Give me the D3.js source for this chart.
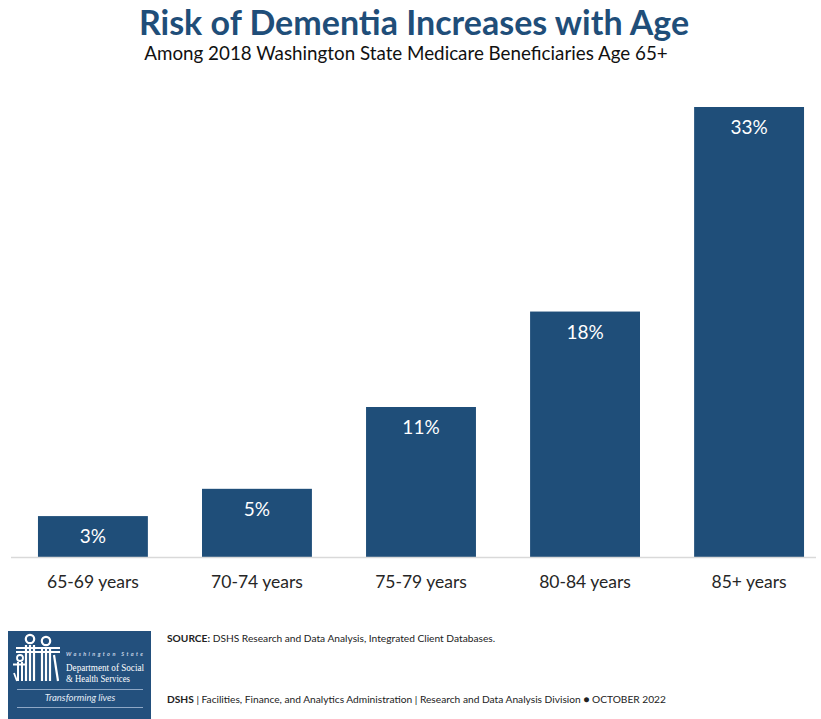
<!DOCTYPE html>
<html>
<head>
<meta charset="utf-8">
<script src="https://cdn.jsdelivr.net/npm/d3@7"></script>
<style>
  html, body { margin: 0; padding: 0; background: #ffffff; }
  svg { display: block; font-family: Lato, "Open Sans", sans-serif; }
</style>
</head>
<body>
<svg id="chart" width="821" height="719"></svg>
<script>
// Share of beneficiaries with dementia, by age group (percent)
const ageGroups = ["65-69 years", "70-74 years", "75-79 years", "80-84 years", "85+ years"];
const dementiaPct = [3, 5, 11, 18, 33];
const valueLabels = ["3%", "5%", "11%", "18%", "33%"];

const titleText = "Risk of Dementia Increases with Age";
const subtitleText = "Among 2018 Washington State Medicare Beneficiaries Age 65+";
const sourceLead = "SOURCE:";
const sourceText = " DSHS Research and Data Analysis, Integrated Client Databases.";
const footerLead = "DSHS";
const footerText = " | Facilities, Finance, and Analytics Administration | Research and Data Analysis Division \u25CF OCTOBER 2022";

const navy = "#1f4e79";
const svg = d3.select("#chart");

// Title block
svg.append("text")
  .attr("x", 414).attr("y", 35)
  .attr("text-anchor", "middle")
  .attr("font-size", 34).attr("font-weight", 700)
  .attr("fill", navy)
  .text(titleText);

svg.append("text")
  .attr("x", 406).attr("y", 60)
  .attr("text-anchor", "middle")
  .attr("font-size", 18.8)
  .attr("fill", "#111")
  .text(subtitleText);

// Scales
const baseY = 557, topY = 107;
const x = d3.scaleBand()
  .domain(ageGroups)
  .range([10.9, 831.1])
  .paddingInner(0.33)
  .paddingOuter(0.165);

const y = d3.scaleLinear()
  .domain([0, d3.max(dementiaPct)])
  .range([baseY, topY]);

const data = ageGroups.map((g, i) => ({ group: g, value: dementiaPct[i], label: valueLabels[i] }));

// Bars
svg.append("g").selectAll("rect")
  .data(data)
  .join("rect")
  .attr("x", d => x(d.group))
  .attr("y", d => y(d.value))
  .attr("width", x.bandwidth())
  .attr("height", d => baseY - y(d.value))
  .attr("fill", navy);

// Value labels inside the top of each bar
svg.append("g").selectAll("text")
  .data(data)
  .join("text")
  .attr("x", d => x(d.group) + x.bandwidth() / 2)
  .attr("y", d => Math.min(y(d.value) + 27, (y(d.value) + baseY) / 2 + 7))
  .attr("text-anchor", "middle")
  .attr("font-size", 19)
  .attr("fill", "#ffffff")
  .text(d => d.label);

// Category axis
const xAxis = svg.append("g")
  .attr("transform", `translate(0,${baseY})`)
  .call(d3.axisBottom(x).tickSize(0).tickPadding(19));
xAxis.select(".domain").remove();
xAxis.selectAll("text")
  .attr("font-family", "Lato, 'Open Sans', sans-serif")
  .attr("font-size", 17.5)
  .attr("fill", "#262626");

svg.append("line")
  .attr("x1", 11).attr("x2", 816)
  .attr("y1", baseY + 0.5).attr("y2", baseY + 0.5)
  .attr("stroke", "#d9d9d9").attr("stroke-width", 1.5);

// Footer notes
const src = svg.append("text")
  .attr("x", 167).attr("y", 642)
  .attr("font-size", 10.2).attr("fill", "#222");
src.append("tspan").attr("font-weight", 700).text(sourceLead);
src.append("tspan").text(sourceText);

const foot = svg.append("text")
  .attr("x", 167).attr("y", 703)
  .attr("font-size", 10.2).attr("fill", "#222");
foot.append("tspan").attr("font-weight", 700).text(footerLead);
foot.append("tspan").text(footerText);

// Agency logo
const logo = svg.append("g").attr("transform", "translate(8,631)");
logo.append("rect").attr("width", 143).attr("height", 88).attr("fill", "#23507d");

const fig = logo.append("g")
  .attr("stroke", "#ffffff").attr("fill", "none");
// adult heads
[[22, 8, 4.2], [38, 10, 4.2]].forEach(([cx, cy, r]) => {
  fig.append("circle").attr("cx", cx).attr("cy", cy).attr("r", r).attr("stroke-width", 2.2);
});
// shoulders / arms
fig.append("line").attr("x1", 8).attr("x2", 52).attr("y1", 17).attr("y2", 17).attr("stroke-width", 2);
fig.append("line").attr("x1", 8).attr("x2", 52).attr("y1", 21).attr("y2", 21).attr("stroke-width", 2);
// adult bodies and legs
[[18, 14, 50], [22, 14, 50], [26, 14, 50], [34, 16, 50], [38, 16, 50], [42, 16, 50]].forEach(([xx, y1, y2]) => {
  fig.append("line").attr("x1", xx).attr("x2", xx).attr("y1", y1).attr("y2", y2).attr("stroke-width", 2.2);
});
fig.append("line").attr("x1", 46).attr("x2", 50).attr("y1", 24).attr("y2", 50).attr("stroke-width", 2.2);
// child figure
fig.append("circle").attr("cx", 12).attr("cy", 27).attr("r", 3).attr("stroke-width", 1.8);
fig.append("line").attr("x1", 5).attr("x2", 19).attr("y1", 33.5).attr("y2", 33.5).attr("stroke-width", 2);
[[10, 31, 50], [14, 31, 50]].forEach(([xx, y1, y2]) => {
  fig.append("line").attr("x1", xx).attr("x2", xx).attr("y1", y1).attr("y2", y2).attr("stroke-width", 2);
});
fig.append("line").attr("x1", 6).attr("x2", 9).attr("y1", 42).attr("y2", 50).attr("stroke-width", 1.8);

logo.append("text")
  .attr("x", 58).attr("y", 25)
  .attr("font-size", 5.5).attr("font-style", "italic").attr("font-weight", 700)
  .attr("textLength", 77).attr("lengthAdjust", "spacing")
  .attr("fill", "#c9d6e6")
  .text("Washington State");
logo.append("text")
  .attr("x", 58).attr("y", 40)
  .attr("font-family", "'Liberation Serif', serif").attr("font-size", 10.5)
  .attr("textLength", 78).attr("lengthAdjust", "spacingAndGlyphs")
  .attr("fill", "#ffffff")
  .text("Department of Social");
logo.append("text")
  .attr("x", 58).attr("y", 51)
  .attr("font-family", "'Liberation Serif', serif").attr("font-size", 10.5)
  .attr("textLength", 64).attr("lengthAdjust", "spacingAndGlyphs")
  .attr("fill", "#ffffff")
  .text("& Health Services");
logo.append("line")
  .attr("x1", 9).attr("x2", 135).attr("y1", 58.5).attr("y2", 58.5)
  .attr("stroke", "#8fa8c6").attr("stroke-width", 1);
logo.append("text")
  .attr("x", 72).attr("y", 70)
  .attr("text-anchor", "middle")
  .attr("font-size", 9.5).attr("font-style", "italic")
  .attr("fill", "#e4ecf5")
  .text("Transforming lives");
logo.append("line")
  .attr("x1", 9).attr("x2", 135).attr("y1", 76.5).attr("y2", 76.5)
  .attr("stroke", "#8fa8c6").attr("stroke-width", 1);
</script>
</body>
</html>
